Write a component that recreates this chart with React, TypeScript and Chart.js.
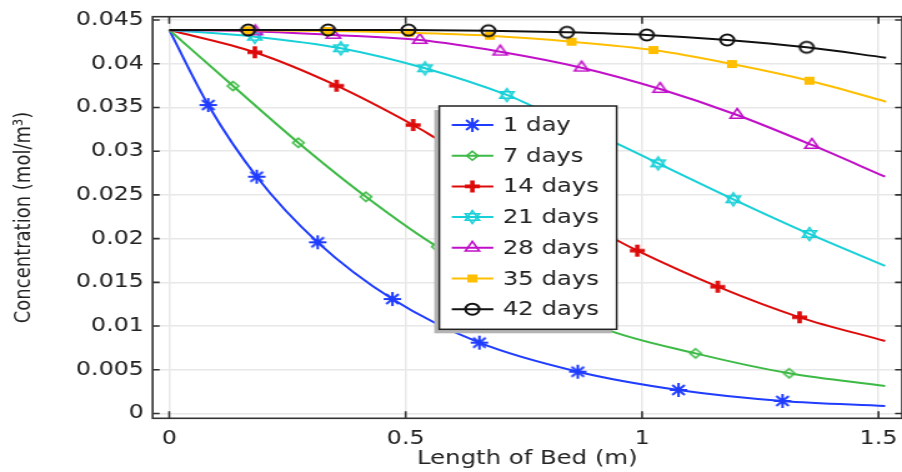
import React, { useEffect, useRef } from 'react';
import { Chart, registerables } from 'chart.js';

Chart.register(...registerables);

// ---------- data ----------
const X_TICKS = [0, 0.5, 1, 1.5];
const X_TICK_LABELS = ['0', '0.5', '1', '1.5'];
const Y_TICKS = [0, 0.005, 0.01, 0.015, 0.02, 0.025, 0.03, 0.035, 0.04, 0.045];
const Y_TICK_LABELS = ['0', '0.005', '0.01', '0.015', '0.02', '0.025', '0.03', '0.035', '0.04', '0.045'];

const SERIES_NAMES = ['1 day', '7 days', '14 days', '21 days', '28 days', '35 days', '42 days'];
const SERIES_COLORS = ['#1f3cff', '#3dba45', '#dd0a0a', '#18d0d8', '#c010c8', '#ffbf00', '#111111'];
const SERIES_MARKERS = ['star', 'diamond', 'plus', 'hexagram', 'triangle', 'square', 'circle'];

const X_1 = [0, 0.0825, 0.185, 0.314, 0.472, 0.656, 0.864, 1.077, 1.297, 1.514];
const Y_1 = [0.04386, 0.03528, 0.02708, 0.01958, 0.01309, 0.0081, 0.00478, 0.00269, 0.00143, 0.00086];
const M_1 = [0, 1, 1, 1, 1, 1, 1, 1, 1, 0];

const X_7 = [0, 0.135, 0.273, 0.416, 0.567, 0.918, 1.113, 1.311, 1.514];
const Y_7 = [0.04386, 0.03745, 0.03097, 0.02479, 0.01908, 0.00974, 0.00688, 0.0046, 0.00315];
const M_7 = [0, 1, 1, 1, 1, 0, 1, 1, 0];

const X_14 = [0, 0.181, 0.354, 0.516, 0.571, 0.946, 0.99, 1.16, 1.333, 1.514];
const Y_14 = [0.04386, 0.04131, 0.03749, 0.03299, 0.03127, 0.01984, 0.01862, 0.0145, 0.011, 0.00829];
const M_14 = [0, 1, 1, 1, 0, 0, 1, 1, 1, 0];

const X_21 = [0, 0.181, 0.363, 0.541, 0.714, 0.763, 0.946, 1.034, 1.193, 1.354, 1.514];
const Y_21 = [0.04386, 0.04309, 0.04177, 0.03948, 0.03643, 0.03528, 0.0309, 0.02861, 0.0245, 0.02053, 0.01687];
const M_21 = [0, 1, 1, 1, 1, 0, 0, 1, 1, 1, 0];

const X_28 = [0, 0.182, 0.347, 0.53, 0.7, 0.872, 1.038, 1.201, 1.359, 1.514];
const Y_28 = [0.04386, 0.0437, 0.0433, 0.04271, 0.04138, 0.03955, 0.03711, 0.03414, 0.03071, 0.02708];
const M_28 = [0, 1, 1, 1, 1, 1, 1, 1, 1, 0];

const X_35 = [0, 0.166, 0.334, 0.507, 0.678, 0.851, 1.024, 1.19, 1.354, 1.516];
const Y_35 = [0.04386, 0.04383, 0.04375, 0.04355, 0.0432, 0.04252, 0.04157, 0.03997, 0.03806, 0.03566];
const M_35 = [0, 1, 1, 1, 1, 1, 1, 1, 1, 0];

const X_42 = [0, 0.167, 0.336, 0.506, 0.675, 0.841, 1.01, 1.18, 1.348, 1.516];
const Y_42 = [0.04386, 0.04386, 0.04386, 0.04385, 0.04378, 0.0436, 0.04329, 0.04272, 0.04188, 0.04069];
const M_42 = [0, 1, 1, 1, 1, 1, 1, 1, 1, 0];

const SERIES_X = [X_1, X_7, X_14, X_21, X_28, X_35, X_42];
const SERIES_Y = [Y_1, Y_7, Y_14, Y_21, Y_28, Y_35, Y_42];
const SERIES_M = [M_1, M_7, M_14, M_21, M_28, M_35, M_42];

const X_MIN = -0.0351;
const X_MAX = 1.5497;
const Y_MIN = -0.00055;
const Y_MAX = 0.04538;

// ---------- layout ----------
const W = 902;
const H = 472;
const SX = 1.25; // horizontal stretch of the picture
const CW = Math.round(W / SX);
const FONT = 'DejaVu Sans';
const TEXT = '#222222';

function drawMarker(ctx: CanvasRenderingContext2D, kind: string, color: string, x: number, y: number) {
  ctx.save();
  ctx.strokeStyle = color;
  ctx.fillStyle = color;
  ctx.lineJoin = 'miter';
  ctx.beginPath();
  if (kind === 'star') {
    const r = 7;
    ctx.lineWidth = 2;
    for (let k = 0; k < 4; k++) {
      const a = (k * Math.PI) / 4;
      ctx.moveTo(x - r * Math.cos(a), y - r * Math.sin(a));
      ctx.lineTo(x + r * Math.cos(a), y + r * Math.sin(a));
    }
    ctx.stroke();
  } else if (kind === 'diamond') {
    const r = 4.5;
    ctx.lineWidth = 1.6;
    ctx.moveTo(x, y - r);
    ctx.lineTo(x + r, y);
    ctx.lineTo(x, y + r);
    ctx.lineTo(x - r, y);
    ctx.closePath();
    ctx.stroke();
  } else if (kind === 'plus') {
    const r = 6;
    ctx.lineWidth = 3.6;
    ctx.moveTo(x - r, y);
    ctx.lineTo(x + r, y);
    ctx.moveTo(x, y - r);
    ctx.lineTo(x, y + r);
    ctx.stroke();
  } else if (kind === 'hexagram') {
    const r = 6.5;
    ctx.lineWidth = 1.5;
    for (const off of [-Math.PI / 2, Math.PI / 2]) {
      for (let k = 0; k < 3; k++) {
        const a = off + (k * 2 * Math.PI) / 3;
        const px = x + r * Math.cos(a);
        const py = y + r * Math.sin(a);
        if (k === 0) ctx.moveTo(px, py);
        else ctx.lineTo(px, py);
      }
      ctx.closePath();
    }
    ctx.stroke();
  } else if (kind === 'triangle') {
    const r = 6.5;
    ctx.lineWidth = 1.6;
    ctx.moveTo(x, y - r);
    ctx.lineTo(x + r * 0.866, y + r * 0.5);
    ctx.lineTo(x - r * 0.866, y + r * 0.5);
    ctx.closePath();
    ctx.stroke();
  } else if (kind === 'square') {
    ctx.fillRect(x - 4, y - 4, 8, 8);
  } else if (kind === 'circle') {
    ctx.lineWidth = 2;
    ctx.arc(x, y, 5.5, 0, Math.PI * 2);
    ctx.stroke();
  }
  ctx.restore();
}

function makeMarkerImage(kind: string, color: string): HTMLCanvasElement {
  const c = document.createElement('canvas');
  c.width = 24;
  c.height = 24;
  const ctx = c.getContext('2d')!;
  drawMarker(ctx, kind, color, 12, 12);
  return c;
}

const framePlugin = {
  id: 'frameAndLegend',
  afterDatasetsDraw(chart: any) {
    const { ctx, chartArea } = chart;
    const { left, right, top, bottom } = chartArea;
    const xs = chart.scales.x;
    const ys = chart.scales.y;
    ctx.save();
    ctx.strokeStyle = '#333333';
    ctx.lineWidth = 1.6;
    ctx.strokeRect(left, top, right - left, bottom - top);
    ctx.beginPath();
    for (const v of X_TICKS) {
      const px = xs.getPixelForValue(v);
      ctx.moveTo(px, bottom);
      ctx.lineTo(px, bottom - 7);
      ctx.moveTo(px, top);
      ctx.lineTo(px, top + 7);
    }
    for (const v of Y_TICKS) {
      const py = ys.getPixelForValue(v);
      ctx.moveTo(left, py);
      ctx.lineTo(left + 5.6, py);
      ctx.moveTo(right, py);
      ctx.lineTo(right - 5.6, py);
    }
    ctx.stroke();
    ctx.restore();
  },
  afterDraw(chart: any) {
    const { ctx } = chart;
    const bx = 351.6;
    const by = 106;
    const bw = 142;
    const bh = 223.3;
    ctx.save();
    ctx.fillStyle = '#b4b4b4';
    ctx.fillRect(bx - 4, by + 4, bw, bh);
    ctx.fillStyle = '#ffffff';
    ctx.fillRect(bx, by, bw, bh);
    ctx.strokeStyle = '#222222';
    ctx.lineWidth = 1.5;
    ctx.strokeRect(bx, by, bw, bh);
    ctx.font = `19.5px "${FONT}"`;
    ctx.textBaseline = 'middle';
    ctx.textAlign = 'left';
    SERIES_NAMES.forEach((name, i) => {
      const y = 125 + i * 30.7;
      ctx.strokeStyle = SERIES_COLORS[i];
      ctx.lineWidth = 2;
      ctx.beginPath();
      ctx.moveTo(361.6, y);
      ctx.lineTo(394.9, y);
      ctx.stroke();
      drawMarker(ctx, SERIES_MARKERS[i], SERIES_COLORS[i], 378.1, y);
      ctx.fillStyle = TEXT;
      ctx.fillText(name, 402.4, y + 1);
    });
    ctx.restore();
  },
};

export default function App() {
  const ref = useRef<HTMLCanvasElement>(null);

  useEffect(() => {
    document.body.style.margin = '0';
    const canvas = ref.current;
    if (!canvas) return;
    const images = SERIES_MARKERS.map((k, i) => makeMarkerImage(k, SERIES_COLORS[i]));
    const datasets = SERIES_NAMES.map((name, i) => ({
      label: name,
      data: SERIES_X[i].map((x, j) => ({ x, y: SERIES_Y[i][j] })),
      borderColor: SERIES_COLORS[i],
      backgroundColor: SERIES_COLORS[i],
      borderWidth: 2,
      pointStyle: images[i],
      pointRadius: SERIES_M[i].map((m) => (m ? 6 : 0)),
      pointHoverRadius: 0,
      fill: false,
      cubicInterpolationMode: 'monotone' as const,
      order: SERIES_NAMES.length - 1 - i,
    }));

    const tickFont = { family: FONT, size: 19 };
    const chart = new Chart(canvas, {
      type: 'line',
      data: { datasets },
      options: {
        animation: false,
        responsive: false,
        devicePixelRatio: 1,
        events: [],
        layout: { padding: { left: 0, right: 0, top: 16.7, bottom: 0 } },
        plugins: { legend: { display: false }, tooltip: { enabled: false } },
        scales: {
          x: {
            type: 'linear',
            min: X_MIN,
            max: X_MAX,
            afterBuildTicks: (s: any) => {
              s.ticks = X_TICKS.map((v) => ({ value: v }));
            },
            afterFit: (s: any) => {
              s.height = H - 418.3;
              s.paddingLeft = 0;
              s.paddingRight = 0;
            },
            ticks: {
              callback: (v: any) => X_TICK_LABELS[X_TICKS.indexOf(Number(v))] ?? '',
              font: tickFont,
              color: TEXT,
              padding: 9,
              maxRotation: 0,
              autoSkip: false,
            },
            grid: { color: '#e8e8e8', lineWidth: 1.5, drawTicks: false },
            border: { display: false },
            title: {
              display: true,
              text: 'Length of Bed (m)',
              font: { family: FONT, size: 19.5 },
              color: TEXT,
              padding: { top: 0, bottom: 1 },
            },
          },
          y: {
            type: 'linear',
            min: Y_MIN,
            max: Y_MAX,
            afterBuildTicks: (s: any) => {
              s.ticks = Y_TICKS.map((v) => ({ value: v }));
            },
            afterFit: (s: any) => {
              s.width = 152.7 / SX;
              s.paddingTop = 0;
              s.paddingBottom = 0;
            },
            ticks: {
              callback: (v: any) => {
                const idx = Y_TICKS.findIndex((t) => Math.abs(t - Number(v)) < 1e-9);
                return idx >= 0 ? Y_TICK_LABELS[idx] : '';
              },
              font: tickFont,
              color: TEXT,
              padding: 7,
              autoSkip: false,
            },
            grid: { color: '#e8e8e8', lineWidth: 1.5, drawTicks: false },
            border: { display: false },
            title: {
              display: true,
              text: 'Concentration (mol/m³)',
              font: { family: FONT, size: 18 },
              color: TEXT,
              padding: { top: 9, bottom: 0 },
            },
          },
        },
      },
      plugins: [framePlugin],
    } as any);
    return () => chart.destroy();
  }, []);

  return (
    <div style={{ width: W, height: H, overflow: 'hidden' }}>
      <canvas ref={ref} width={CW} height={H} style={{ width: W, height: H, display: 'block' }} />
    </div>
  );
}
